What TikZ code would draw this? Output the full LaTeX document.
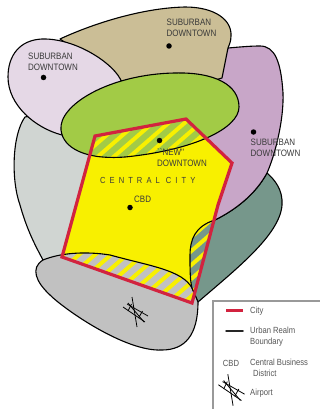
\documentclass[tikz,border=0pt]{standalone}
\usepackage{fontspec}
\newfontfamily\lab[FakeStretch=.86]{Liberation Sans}
\definecolor{tan}{HTML}{CBBE96}
\definecolor{lilac}{HTML}{E5D8E6}
\definecolor{leaf}{HTML}{A2CB46}
\definecolor{sage}{HTML}{D0D5D2}
\definecolor{plum}{HTML}{C8A6C8}
\definecolor{teal2}{HTML}{76978B}
\definecolor{rock}{HTML}{C1C1C1}
\definecolor{sun}{HTML}{F8F000}
\definecolor{cityred}{HTML}{D2233F}
\definecolor{ink}{HTML}{3A3A3A}
\def\pathsage{(25,117) .. controls (12,135) and (11,180) .. (20,205) .. controls (27,230) and (35,245) .. (43,260) -- (150,262) -- (150,150) -- (60,110) -- cycle}
\def\pathtan{(60,39) .. controls (90,25) and (140,8) .. (185,7) .. controls (215,7) and (232,20) .. (231,36) .. controls (231,42) and (229,45) .. (228,48) -- (222,78) -- (150,100) -- cycle}
\def\pathplum{(228,48) .. controls (240,47) and (250,46) .. (260,46) .. controls (275,46) and (281,62) .. (283,93) .. controls (284,120) and (275,155) .. (267,173) .. controls (255,195) and (235,210) .. (215,220) -- (180,150) -- cycle}
\def\pathlilac{(8,77) .. controls (8,55) and (20,40) .. (42,39) .. controls (80,38) and (122,70) .. (122,85) .. controls (122,110) and (90,140) .. (62,135) .. controls (35,128) and (8,105) .. (8,77) -- cycle}
\def\pathteal{(198,302) .. controls (235,270) and (280,235) .. (282,205) .. controls (283,190) and (275,180) .. (267,173) .. controls (255,195) and (235,210) .. (215,220) .. controls (195,226) and (190,240) .. (190,255) .. controls (190,270) and (190,280) .. (192,288) -- cycle}
\def\pathrock{(198,302) -- (192,288) .. controls (182,270) and (150,266) .. (110,255) .. controls (85,251) and (60,253) .. (43,260) .. controls (30,268) and (36,282) .. (50,295) .. controls (64,309) and (125,352) .. (162,350) .. controls (185,350) and (198,335) .. (198,302) -- cycle}
\def\pathleaf{(61,130) .. controls (58,105) and (110,74) .. (175,73) .. controls (215,72) and (239,85) .. (239,107) .. controls (239,128) and (195,150) .. (125,157) .. controls (85,160) and (63,148) .. (61,130) -- cycle}
\def\pathcity{(95,136) -- (186,119) -- (232,163) -- (218,205) -- (192,303) -- (62,257) -- cycle}
\newcommand{\hatchlines}[1]{\foreach \k in {0,...,45}{\draw[sun,line width=4pt] ({#1+16*\k-460},400) -- ({#1+16*\k},0);}}
\newcommand{\hatched}[3]{\begin{scope}\clip \pathcity;\begin{scope}\clip #1;\fill[#2] #1;\hatchlines{#3}\end{scope}\draw[edge] #1;\end{scope}}
\tikzset{
 edge/.style={draw=black,line width=1.1pt,line join=round},
 lbl/.style={font=\lab\fontsize{9.3}{11}\selectfont,text=ink,inner sep=0pt,align=left,anchor=north west},
 leg/.style={font=\lab\fontsize{8.9}{11}\selectfont,text=ink!85,inner sep=0pt,align=left,anchor=west},
 dotn/.style={circle,fill=black,inner sep=0pt,minimum size=5.5pt},
 air/.style={draw=black,line width=.8pt},
 airport/.pic={
  \draw[air] (-12.5,-5) -- (9.5,10);
  \draw[air] (-8.5,-8) -- (12.5,4);
  \draw[air] (-3.5,-15) -- (1.5,15);
  \draw[air] (-7.5,-9) -- (8.5,10);
  \draw[air] (-4,-8) -- (-7.5,-1);
  \draw[air] (7,-1) -- (3,6);
 }
}
\begin{document}
\begin{tikzpicture}[x=1pt,y=-1pt]
\useasboundingbox (0,0) rectangle (320,409);
\fill[white] (0,0) rectangle (320,409);
\draw[edge,fill=sage] \pathsage;
\draw[edge,fill=teal2] \pathteal;
\draw[edge,fill=plum] \pathplum;
\draw[edge,fill=tan] \pathtan;
\draw[edge,fill=lilac] \pathlilac;
\draw[edge,fill=rock] \pathrock;
\draw[edge,fill=leaf] \pathleaf;
\fill[sun] \pathcity;
\hatched{\pathleaf}{leaf}{6}
\hatched{\pathrock}{rock}{4}
\hatched{\pathteal}{teal2}{0}
\draw[cityred,line width=3.2pt,line join=miter] \pathcity;
\node[dotn] (d1) at (43.5,77.5) {};
\node[dotn] (d2) at (169,46) {};
\node[dotn] (d3) at (253.5,132) {};
\node[dotn] (d4) at (159.5,140.5) {};
\node[dotn] (d5) at (130,207.5) {};
\node[lbl] (t1) at (28,52.5) {SUBURBAN\\DOWNTOWN};
\node[lbl] (t2) at (166.5,19) {SUBURBAN\\DOWNTOWN};
\node[lbl] (t3) at (250.5,138.5) {SUBURBAN\\DOWNTOWN};
\node[lbl] (t4) at (157,148.5) {``NEW''\\DOWNTOWN};
\node[lbl,anchor=west,font=\lab\fontsize{8.8}{9}\selectfont\addfontfeature{LetterSpace=46}] (t5) at (100,180) {CENTRAL CITY};
\node[lbl,anchor=west] (t6) at (134,199.5) {CBD};
\path (135.5,312) pic {airport};
\coordinate (b1) at (213,409);
\coordinate (b2) at (213,301);
\coordinate (b3) at (320,301);
\draw[gray!80,line width=1.2pt] (b1) -- (b2) -- (b3);
\coordinate (r1) at (226,310); \coordinate (r2) at (243,310);
\draw[cityred,line width=3pt] (r1) -- (r2);
\coordinate (k1) at (226,331); \coordinate (k2) at (243,331);
\draw[black!85,line width=1.5pt,line cap=round] (k1) -- (k2);
\node[leg] (l1) at (250,311) {City};
\node[leg] (l2) at (250,336.5) {Urban Realm\\Boundary};
\node[leg,anchor=center] (l3) at (231,363) {CBD};
\node[leg] (l4) at (250,367.5) {Central Business\\\hspace*{3pt}District};
\node[leg] (l5) at (250,393) {Airport};
\path (231.5,390) pic[scale=1.05] {airport};
\end{tikzpicture}
\end{document}
